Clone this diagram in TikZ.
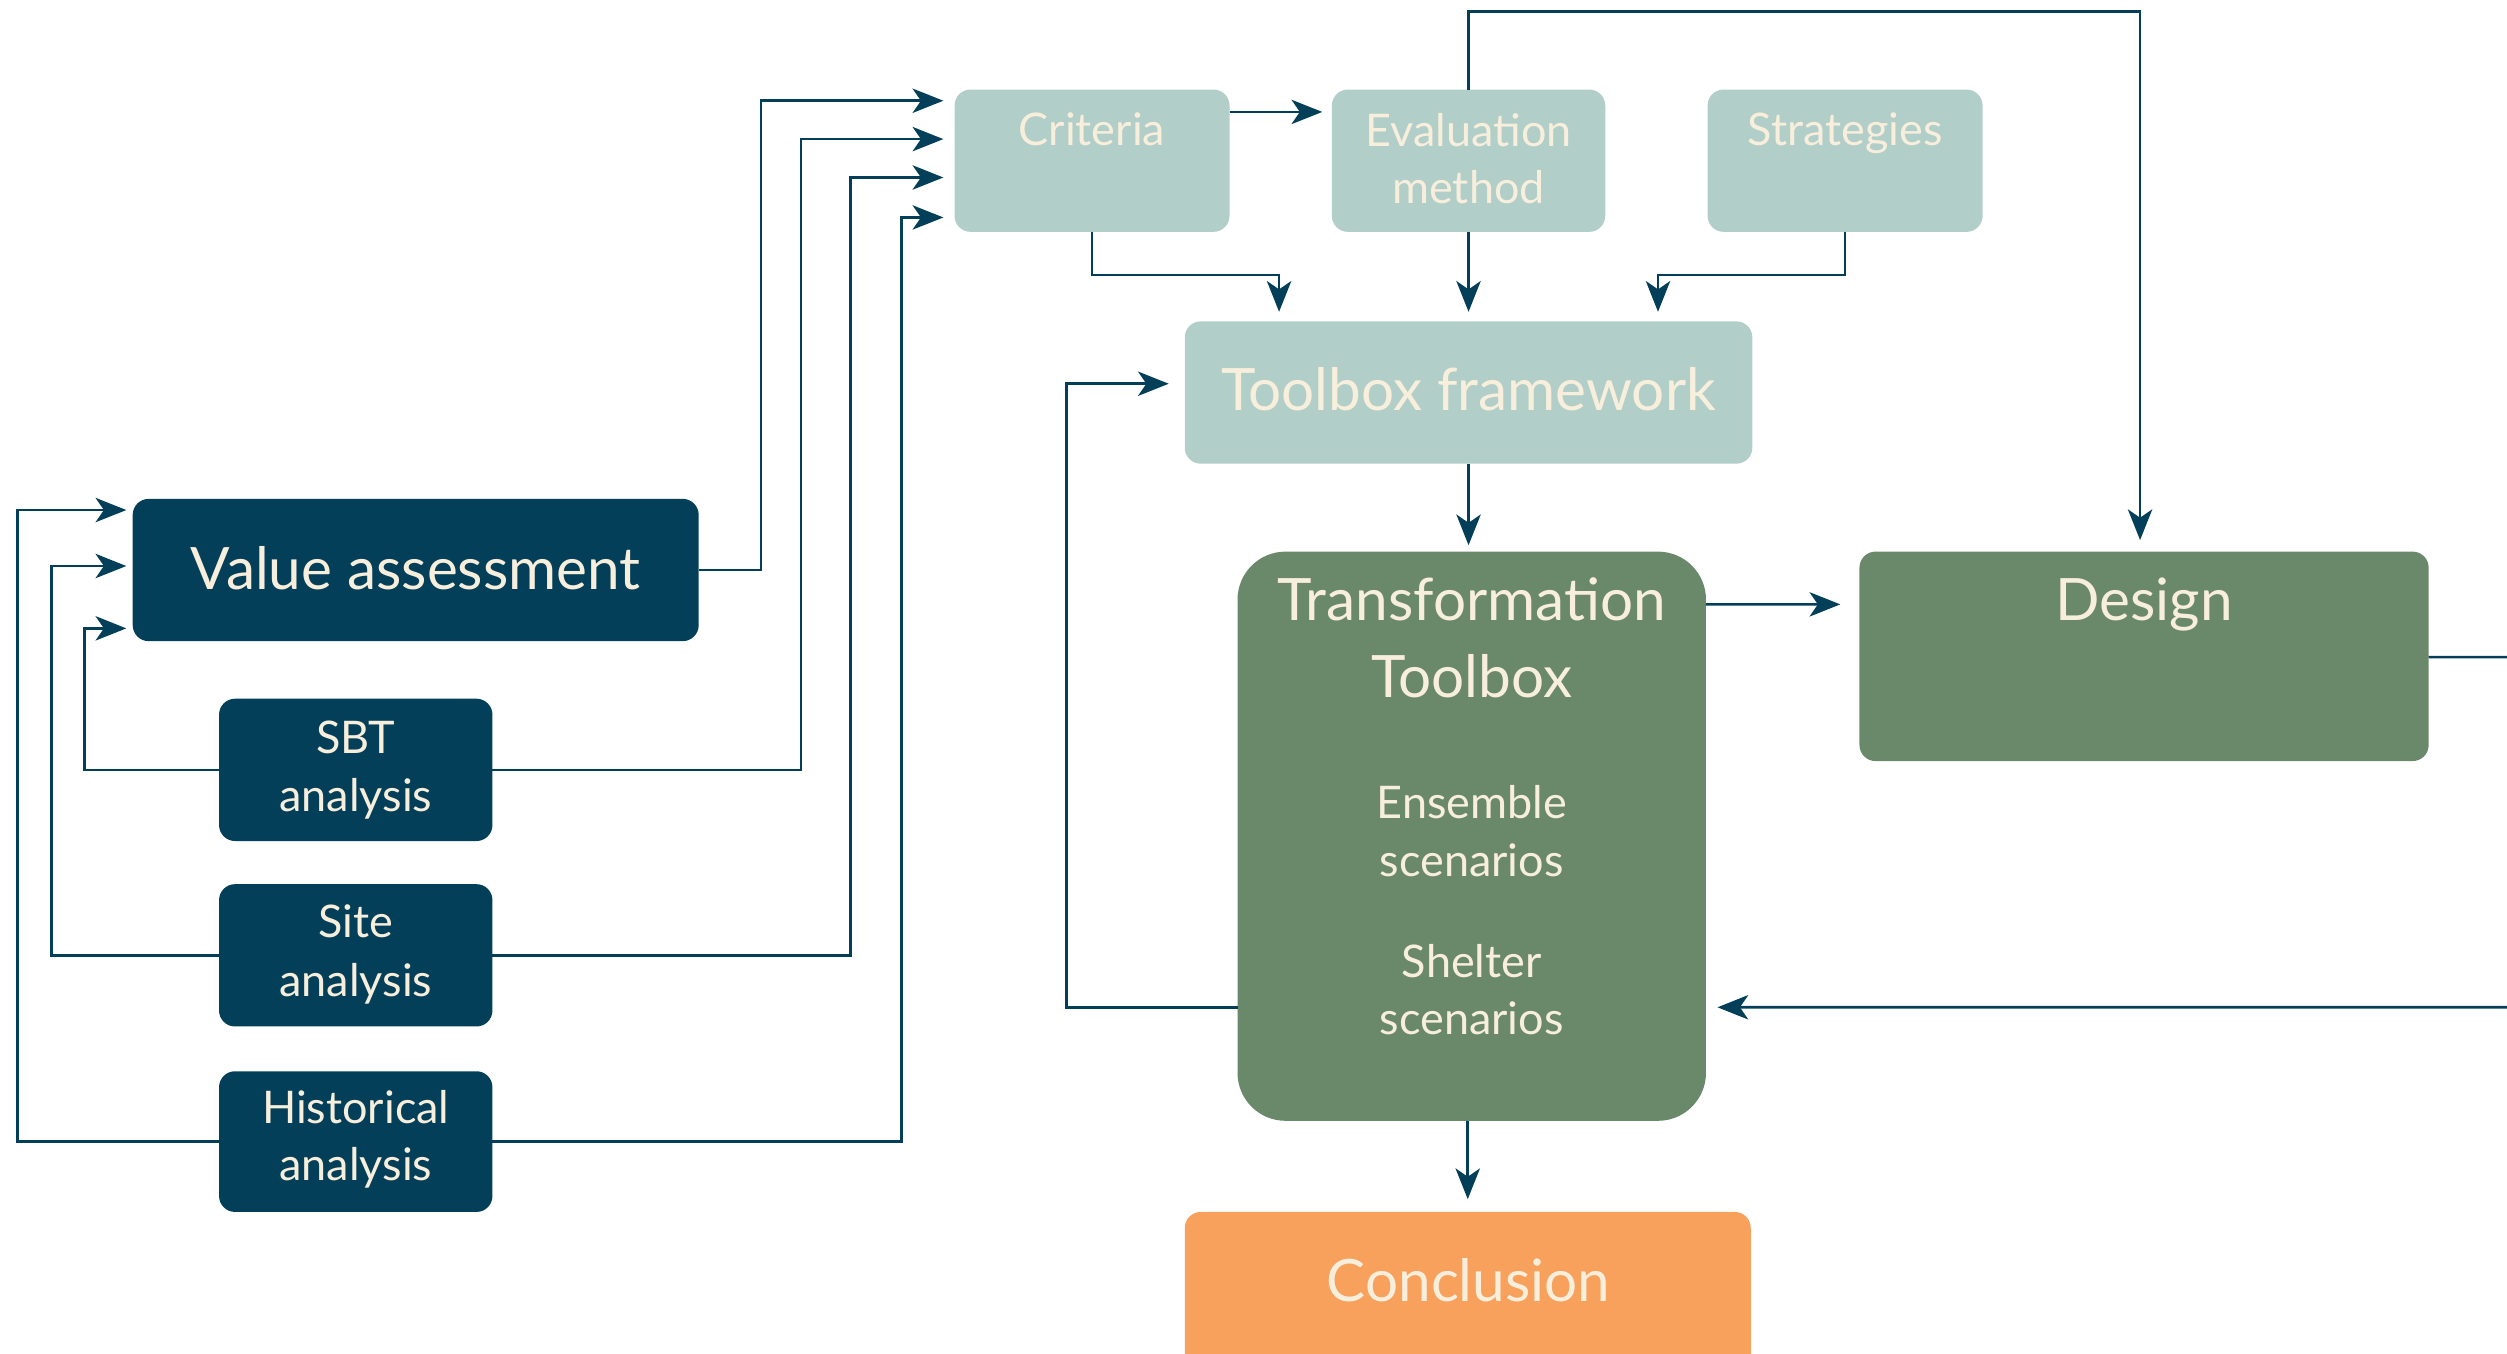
\documentclass[tikz,border=0pt]{standalone}
\usepackage{fontspec}
\setmainfont{Lato}
\usetikzlibrary{arrows.meta,calc,fit}
\definecolor{navy}{HTML}{033F59}
\definecolor{tealA}{HTML}{B1CEC8}
\definecolor{greenA}{HTML}{6A896A}
\definecolor{orangeA}{HTML}{F7A15D}
\definecolor{cream}{HTML}{F8EEDC}
\begin{document}
\begin{tikzpicture}[x=0.025cm,y=-0.025cm,
  box/.style={inner sep=0pt, outer sep=0pt, draw=none, rounded corners=0.25cm},
  navybox/.style={box, fill=navy},
  tealbox/.style={box, fill=tealA},
  greenbox/.style={box, fill=greenA},
  orangebox/.style={box, fill=orangeA},
  big/.style={text=cream, inner sep=0pt, anchor=base, font=\fontsize{26}{31}\selectfont},
  mid/.style={text=cream, inner sep=0pt, anchor=base, font=\fontsize{20}{24}\selectfont},
  conn/.style={draw=navy, line width=1.2pt, -{Stealth[length=0.48cm,width=0.38cm,inset=0.13cm]}},
]
\useasboundingbox (0,0) rectangle (1568,846.85);
\clip (0,0) rectangle (1568,846.85);

% boxes
\node[tealbox, fit={(597,56)(769,145)}] (crit) {};
\node[tealbox, fit={(833,56)(1004,145)}] (eval) {};
\node[tealbox, fit={(1068,56)(1240,145)}] (strat) {};
\node[tealbox, fit={(741,201)(1096,290)}] (tbf) {};
\node[greenbox, rounded corners=0.75cm, fit={(774,345)(1067,701)}] (tt) {};
\node[greenbox, fit={(1163,345)(1519,476)}] (design) {};
\node[orangebox, fit={(741,758)(1095,900)}] (concl) {};
\node[navybox, fit={(83,312)(437,401)}] (va) {};
\node[navybox, fit={(137,437)(308,526)}] (sbt) {};
\node[navybox, fit={(137,553)(308,642)}] (site) {};
\node[navybox, fit={(137,670)(308,758)}] (hist) {};

% texts
\node[big] (vaT) at (260,368.5) {Value assessment};
\node[big] (tbfT) at (918.5,257) {Toolbox framework};
\node[big] (ttT1) at (920.5,388) {Transformation};
\node[big] (ttT2) at (920.5,436) {Toolbox};
\node[big] (desT) at (1341,388) {Design};
\node[big] (conT) at (918.5,813.7) {Conclusion};
\node[mid] (critT) at (683,90.7) {Criteria};
\node[mid] (evalT1) at (918.5,91.5) {Evaluation};
\node[mid] (evalT2) at (918.5,127) {method};
\node[mid] (stratT) at (1154,91) {Strategies};
\node[mid] (sbtT1) at (222.5,471.3) {SBT};
\node[mid] (sbtT2) at (222.5,507.6) {analysis};
\node[mid] (siteT1) at (222.5,586.6) {Site};
\node[mid] (siteT2) at (222.5,623) {analysis};
\node[mid] (histT1) at (222.5,702.5) {Historical};
\node[mid] (histT2) at (222.5,738.6) {analysis};
\node[mid] (ensT1) at (920.5,512) {Ensemble};
\node[mid] (ensT2) at (920.5,548.3) {scenarios};
\node[mid] (shT1) at (920.5,611.6) {Shelter};
\node[mid] (shT2) at (920.5,647) {scenarios};

% connectors into Criteria
\draw[conn, shorten >=0.175cm] (va.east) -- ++(39,0) |- ($(crit.north west)+(0,7)$);
\draw[conn, shorten >=0.175cm] (sbt.east) -- ++(193,0) |- ($(crit.north west)+(0,31)$);
\draw[conn, shorten >=0.175cm] (site.east) -- ++(224,0) |- ($(crit.north west)+(0,55)$);
\draw[conn, shorten >=0.175cm] (hist.east) -- ++(256,0) |- ($(crit.north west)+(0,80)$);

% connectors into Value assessment
\draw[conn, shorten >=0.1cm] (sbt.west) -- ++(-84,0) |- ($(va.north west)+(0,81)$);
\draw[conn, shorten >=0.1cm] (site.west) -- ++(-105,0) |- ($(va.north west)+(0,42)$);
\draw[conn, shorten >=0.1cm] (hist.west) -- ++(-126,0) |- ($(va.north west)+(0,7)$);

% top row
\draw[conn, shorten >=0.15cm] ($(crit.north east)+(0,14)$) -- ($(eval.north west)+(0,14)$);
\draw[conn, shorten >=0.15cm] (crit.south) -- ++(0,27) -| ($(tbf.north west)+(59,0)$);
\draw[conn, shorten >=0.15cm] (eval.south) -- (tbf.north);
\draw[conn, shorten >=0.15cm] (strat.south) -- ++(0,27) -| ($(tbf.north west)+(296,0)$);
\draw[conn, shorten >=0.18cm] (eval.north) -- ++(0,-49) -| ($(design.north)+(-2.5,0)$);

% middle
\draw[conn, shorten >=0.1cm] (tbf.south) -- (tbf.south |- tt.north);
\draw[conn, shorten >=0.3cm] ($(tt.north east)+(0,33)$) -- ($(design.north west)+(0,33)$);
\draw[conn, shorten >=0.2cm] (concl.north |- tt.south) -- (concl.north);
\draw[conn, shorten >=0.25cm] ($(tt.north west)+(0,285)$) -- ++(-107,0) |- ($(tbf.north west)+(0,39)$);
\draw[conn, shorten >=0.18cm] ($(design.north east)+(0,66)$) -- (1600,411) -- (1600,630) -- ($(tt.north east)+(0,285)$);
\end{tikzpicture}
\end{document}
